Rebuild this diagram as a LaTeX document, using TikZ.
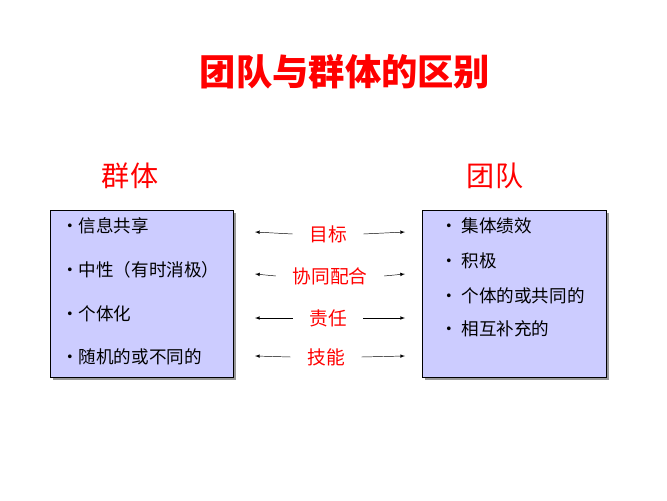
\documentclass[tikz,border=0pt]{standalone}
\usepackage{fontspec}
\newfontfamily\cjk{Noto Sans CJK SC}
\definecolor{titlered}{RGB}{255,0,0}
\definecolor{boxfill}{RGB}{204,204,255}
\tikzset{
	groupbox/.style={draw=black,fill=boxfill},
	boxshadow/.style={fill=gray!80,draw=none},
	item/.style={anchor=west,font=\cjk\fontsize{15}{18}\selectfont},
	midlabel/.style={text=titlered,font=\cjk\fontsize{16}{19}\selectfont,inner xsep=14pt},
	head/.style={text=titlered,font=\cjk\fontsize{24}{28}\selectfont}
}
\begin{document}
\begin{tikzpicture}[x=0.03cm,y=-0.03cm,>=latex]
		\useasboundingbox (0,0) rectangle (667,500);
		
		\node[text=titlered,font=\cjk\bfseries\fontsize{31}{36}\selectfont] (title) at (345,72) {团队与群体的区别};
		
		\node[head] (qunti) at (130,176) {群体};
		\node[head] (tuandui) at (495,176) {团队};
		
		\fill[boxshadow] (53,213) rectangle (236,380);
		\draw[groupbox] (50,210) rectangle (233,377);
		\fill[boxshadow] (425,213) rectangle (609,380);
		\draw[groupbox] (422,210) rectangle (606,377);
		
		\node[item] (l1) at (57,226) {•信息共享};
		\node[item] (l2) at (57,270) {•中性（有时消极）};
		\node[item] (l3) at (57,314) {•个体化};
		\node[item] (l4) at (57,357) {•随机的或不同的};
		
		\node[item] (r1) at (436,226) {• 集体绩效};
		\node[item] (r2) at (436,261) {• 积极};
		\node[item] (r3) at (436,296) {• 个体的或共同的};
		\node[item] (r4) at (436,329) {• 相互补充的};
		
		\node[midlabel] (m1) at (328,234) {目标};
		\node[midlabel] (m2) at (330,276) {协同配合};
		\node[midlabel] (m3) at (328,318) {责任};
		\node[midlabel] (m4) at (326,357) {技能};
		
		\coordinate (a1) at (255,232);
		\coordinate (b1) at (405,232);
		\coordinate (a2) at (255,274);
		\coordinate (b2) at (405,274);
		\coordinate (a3) at (255,318);
		\coordinate (b3) at (405,318);
		\coordinate (a4) at (255,356);
		\coordinate (b4) at (405,356);
		
		\draw[->] (m1.west) -- (a1);
		\draw[->] (m1.east) -- (b1);
		\draw[->] (m2.west) -- (a2);
		\draw[->] (m2.east) -- (b2);
		\draw[->] (m3.west) -- (a3);
		\draw[->] (m3.east) -- (b3);
		\draw[->] (m4.west) -- (a4);
		\draw[->] (m4.east) -- (b4);
	\end{tikzpicture}
\end{document}
